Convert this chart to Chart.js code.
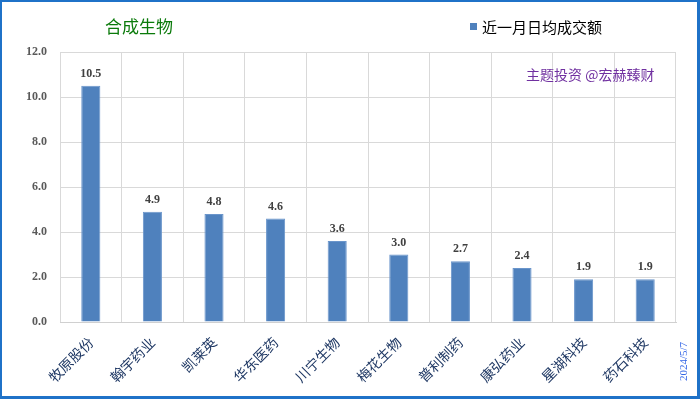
<!DOCTYPE html>
<html>
<head>
<meta charset="utf-8">
<script src="https://cdn.jsdelivr.net/npm/chart.js@4"></script>
<style>
html,body{margin:0;padding:0;background:#fff;}
#wrap{position:relative;width:700px;height:399px;box-sizing:border-box;border:3px solid #1F72C8;border-top-width:2px;border-left-width:2px;}
canvas{position:absolute;left:-2px;top:-2px;}
</style>
</head>
<body>
<div id="wrap"><canvas id="c" width="700" height="399"></canvas></div>
<script>
const categories = ['牧原股份','翰宇药业','凯莱英','华东医药','川宁生物','梅花生物','普利制药','康弘药业','星湖科技','药石科技'];
const values = [10.5, 4.9, 4.8, 4.6, 3.6, 3.0, 2.7, 2.4, 1.9, 1.9];
const seriesName = '近一月日均成交额';
const chartTitle = '合成生物';
const watermark = '主题投资 @宏赫臻财';
const dateText = '2024/5/7';

const serif = "'Liberation Serif','Noto Sans CJK SC',serif";
const cjk = "'Noto Sans CJK SC','Liberation Serif',serif";

const overlay = {
  id: 'overlay',
  afterDatasetsDraw(chart) {
    const ctx = chart.ctx;
    const meta = chart.getDatasetMeta(0);
    ctx.save();
    ctx.font = "bold 12px " + serif;
    ctx.fillStyle = '#404040';
    ctx.textAlign = 'center';
    ctx.textBaseline = 'bottom';
    meta.data.forEach((bar, i) => {
      ctx.fillText(values[i].toFixed(1), bar.x, bar.y - 6);
    });
    ctx.restore();
  },
  afterDraw(chart) {
    const ctx = chart.ctx;
    ctx.save();
    ctx.font = "17px " + cjk;
    ctx.fillStyle = '#0A7A0A';
    ctx.textAlign = 'left';
    ctx.textBaseline = 'middle';
    ctx.fillText(chartTitle, 105, 27);
    ctx.fillStyle = '#4F81BD';
    ctx.fillRect(470, 23, 7, 7);
    ctx.font = "15px " + cjk;
    ctx.fillStyle = '#000000';
    ctx.fillText(seriesName, 482, 27);
    ctx.font = "14px " + cjk;
    ctx.fillStyle = '#7030A0';
    ctx.fillText(watermark, 526, 75);
    ctx.translate(684, 381);
    ctx.rotate(-Math.PI / 2);
    ctx.font = "11px " + serif;
    ctx.fillStyle = '#3366E6';
    ctx.textAlign = 'left';
    ctx.fillText(dateText, 0, 0);
    ctx.restore();
  }
};

new Chart(document.getElementById('c'), {
  type: 'bar',
  data: {
    labels: categories,
    datasets: [{
      label: seriesName,
      data: values,
      backgroundColor: '#4F81BD',
      borderColor: '#6A95CB',
      borderWidth: 1,
      categoryPercentage: 1,
      barPercentage: 0.31
    }]
  },
  options: {
    responsive: false,
    animation: false,
    devicePixelRatio: 1,
    layout: { padding: { left: 0, right: 24, top: 52, bottom: 0 } },
    plugins: { legend: { display: false }, tooltip: { enabled: false }, title: { display: false } },
    scales: {
      x: {
        grid: { color: '#D9D9D9', lineWidth: 1, drawTicks: false, offset: true },
        border: { color: '#D0D0D0' },
        ticks: {
          minRotation: 45, maxRotation: 45, padding: 12,
          color: '#1F3864',
          font: { size: 14, family: cjk }
        },
        afterFit(s) { s.height = 77; }
      },
      y: {
        min: 0, max: 12,
        grid: { color: '#D9D9D9', lineWidth: 1, drawTicks: false },
        border: { display: false },
        ticks: {
          stepSize: 2, padding: 13,
          color: '#595959',
          font: { size: 12, weight: 'bold', family: serif },
          callback: v => Number(v).toFixed(1)
        },
        afterFit(s) { s.width = 60; }
      }
    }
  },
  plugins: [overlay]
});
</script>
</body>
</html>
